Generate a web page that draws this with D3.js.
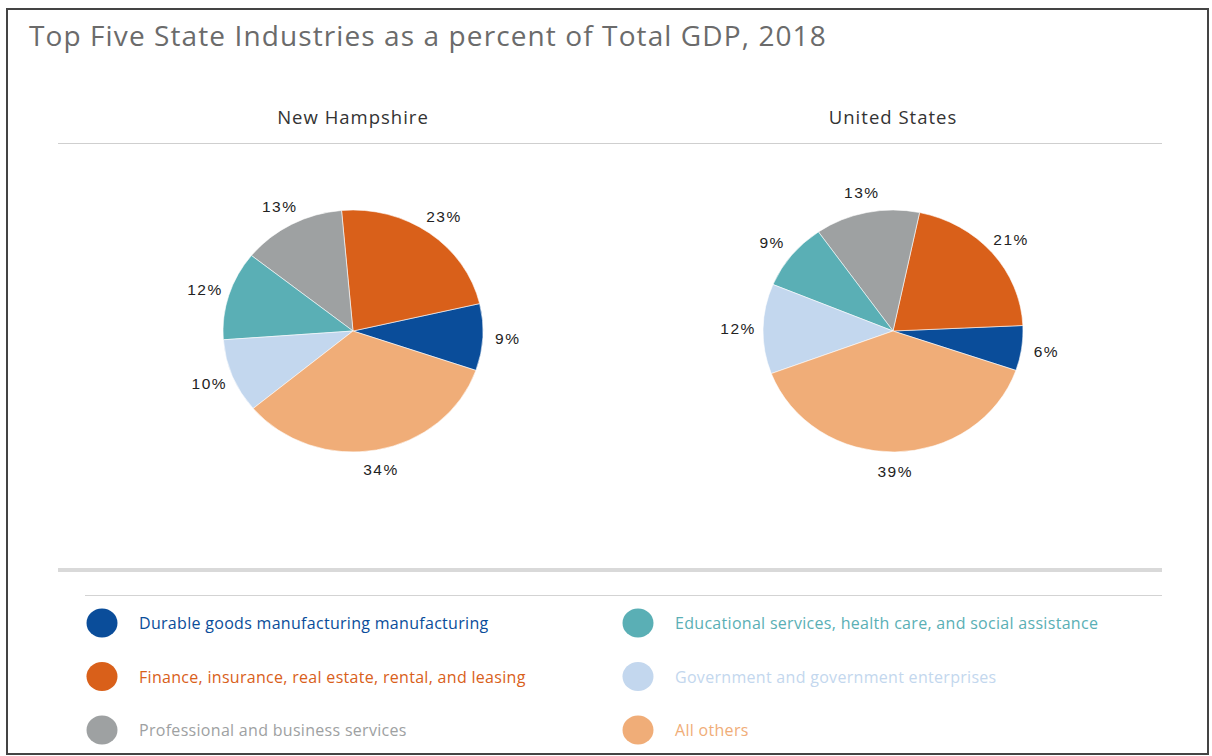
<!DOCTYPE html>
<html>
<head>
<meta charset="utf-8">
<script src="https://cdn.jsdelivr.net/npm/d3@7"></script>
<style>
  body { margin: 0; background: #fff; }
  .title { font-family: "Open Sans", sans-serif; fill: #6b6b6b; letter-spacing: 1.1px; }
  .sub { font-family: "Open Sans", sans-serif; fill: #333; letter-spacing: 1px; }
  .pct { font-family: "Liberation Sans", Arial, sans-serif; fill: #222; letter-spacing: 1.5px; }
  .leg { font-family: "Open Sans", sans-serif; letter-spacing: 0.3px; }
</style>
</head>
<body>
<div class="boundary"></div>
<script>
// categories in legend order (column-major)
var categories = [
  "Durable goods manufacturing manufacturing",
  "Finance, insurance, real estate, rental, and leasing",
  "Professional and business services",
  "Educational services, health care, and social assistance",
  "Government and government enterprises",
  "All others"
];
var regions = ["New Hampshire", "United States"];
var nhValues = [9, 23, 13, 12, 10, 34];
var usValues = [6, 21, 13, 9, 12, 39];
var palette = ["#0a4d9a", "#d9601a", "#9ea1a2", "#5aafb5", "#c3d7ee", "#f0ad78"];

var width = 1212;
var height = 756;
var svg = d3.select(".boundary").append("svg")
            .attr("width", width).attr("height", height);

// frame
svg.append("rect").attr("x", 7).attr("y", 9).attr("width", 1201).attr("height", 745)
   .attr("fill", "none").attr("stroke", "#444").attr("stroke-width", 2);

svg.append("text").classed("title", true)
   .attr("x", 29).attr("y", 46).style("font-size", "28px")
   .text("Top Five State Industries as a percent of Total GDP, 2018");

var colors = d3.scaleOrdinal().domain(categories).range(palette);

// pie centres across the width
var xPos = d3.scalePoint().domain(regions).range([353, 893]);
var rx = 130, ry = 121;   // the pies are drawn slightly squashed
var cy = 331;

svg.append("line").attr("x1", 58).attr("x2", 1162).attr("y1", 143.5).attr("y2", 143.5)
   .attr("stroke", "#cfcfcf").attr("stroke-width", 1);

var start = 109 * Math.PI / 180;
var pie = d3.pie().sort(null).value(function(d){ return d.value; })
            .startAngle(start).endAngle(start - 2 * Math.PI);
var segments = d3.arc().innerRadius(0).outerRadius(rx);

var series = [nhValues, usValues];
regions.forEach(function(region, k){
  var rows = categories.map(function(c, i){ return {name: c, value: series[k][i]}; });
  var data = pie(rows);
  var g = svg.append("g").attr("transform", "translate(" + xPos(region) + "," + cy + ")");

  svg.append("text").classed("sub", true)
     .attr("x", xPos(region)).attr("y", 124).attr("text-anchor", "middle")
     .style("font-size", "18.5px").text(region);

  g.append("g").attr("transform", "scale(1," + (ry / rx) + ")")
   .selectAll("path").data(data).enter().append("path")
   .attr("d", segments)
   .attr("fill", function(d){ return colors(d.data.name); })
   .attr("stroke", "#fff").attr("stroke-width", 0.6);

  g.selectAll("text.pct").data(data).enter().append("text").classed("pct", true)
   .each(function(d){
     var a = (d.startAngle + d.endAngle) / 2;
     d3.select(this)
       .attr("x", Math.sin(a) * (rx + 25))
       .attr("y", -Math.cos(a) * (ry + 20))
       .attr("text-anchor", "middle")
       .attr("dominant-baseline", "central")
       .style("font-size", "15.5px")
       .text(d.data.value + "%");
   });
});

// legend
svg.append("line").attr("x1", 58).attr("x2", 1162).attr("y1", 570).attr("y2", 570)
   .attr("stroke", "#d9d9d9").attr("stroke-width", 4);
svg.append("line").attr("x1", 85).attr("x2", 1162).attr("y1", 595.5).attr("y2", 595.5)
   .attr("stroke", "#d3d3d3").attr("stroke-width", 1);

var legCol = d3.scaleOrdinal().domain([0, 1]).range([102, 638]);
var legRow = d3.scaleLinear().domain([0, 2]).range([623, 730]);

var legend = svg.append("g").selectAll("g").data(categories).enter().append("g")
  .attr("transform", function(d, i){
    return "translate(" + legCol(Math.floor(i / 3)) + "," + legRow(i % 3) + ")";
  });
legend.append("ellipse").attr("rx", 15.5).attr("ry", 14.5)
  .attr("fill", function(d){ return colors(d); });
legend.append("text").classed("leg", true)
  .attr("x", 37).attr("y", 0).attr("dominant-baseline", "central")
  .style("font-size", "16px")
  .attr("fill", function(d){ return colors(d); })
  .text(function(d){ return d; });
</script>
</body>
</html>
